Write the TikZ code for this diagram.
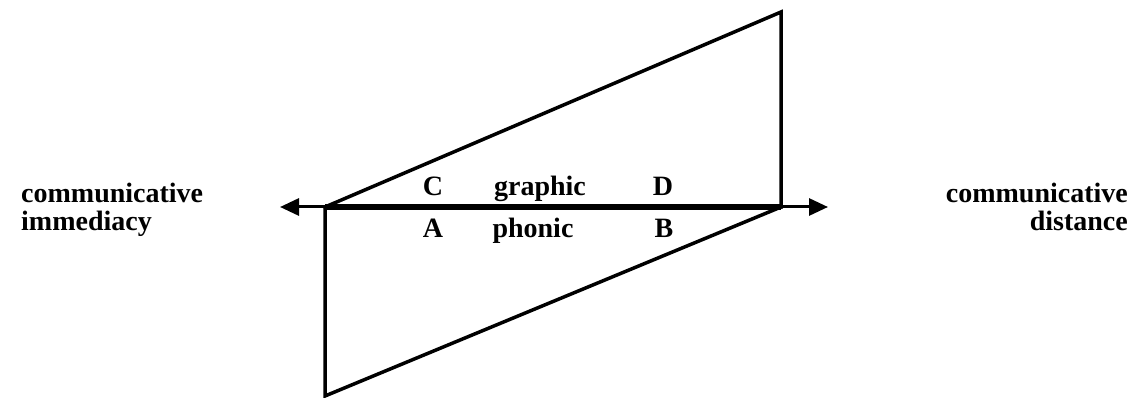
\documentclass[tikz,border=0pt]{standalone}
\usepackage{fontspec}
\setmainfont{Liberation Serif}
\usetikzlibrary{arrows.meta}
\begin{document}
\begin{tikzpicture}[x=1pt,y=-1pt,
  lbl/.style={font=\fontsize{28}{32}\selectfont\bfseries, inner sep=0pt, anchor=base},
  sidetext/.style={font=\fontsize{28}{28}\selectfont\bfseries, inner sep=0pt},
  edge/.style={line width=3.5pt, line cap=rect, line join=miter},
  axis/.style={line width=3pt, {Triangle[length=19pt,width=17pt]}-{Triangle[length=19pt,width=17pt]}}]
\useasboundingbox (0,0) rectangle (1132,398);
% corners
\coordinate (L) at (325,207);
\coordinate (R) at (781,207);
\coordinate (BL) at (325,396);
\coordinate (TR) at (781,12);
\coordinate (aL) at (280,207);
\coordinate (aR) at (828,207);
% axis with arrows
\draw[axis] (aL) -- (aR);
% parallelograms
\draw[edge] (L) -- (BL) -- (R);
\draw[edge] (L) -- (TR) -- (R);
\draw[line width=5.5pt] (L) -- (R);
% labels
\node[lbl] (C) at (433,196) {C};
\node[lbl] (g) at (540,196) {graphic};
\node[lbl] (D) at (663,196) {D};
\node[lbl] (A) at (433,237) {A};
\node[lbl] (p) at (533,237) {phonic};
\node[lbl] (B) at (664,237) {B};
% side texts
\node[sidetext, anchor=base west, align=left] (ci) at (21,230) {communicative\\immediacy};
\node[sidetext, anchor=base east, align=right] (cd) at (1128,230) {communicative\\distance};
\end{tikzpicture}
\end{document}
